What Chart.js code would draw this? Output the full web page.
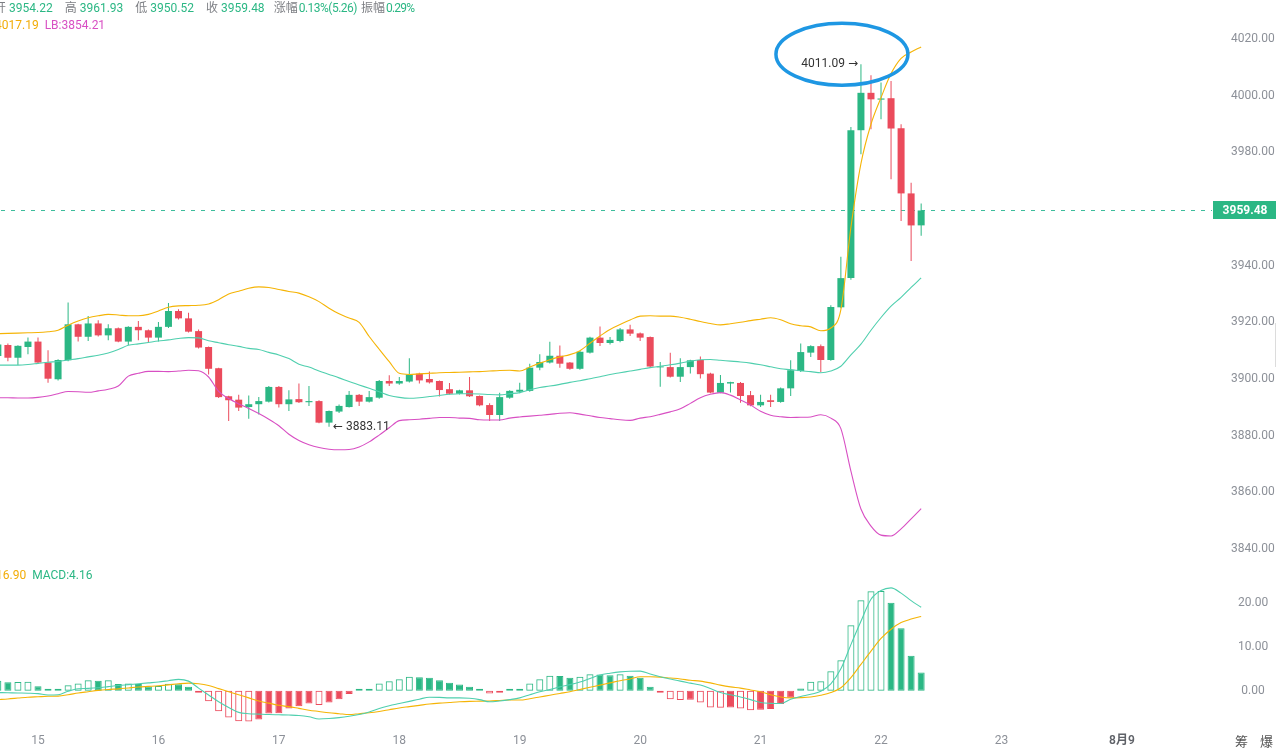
<!DOCTYPE html>
<html>
<head>
<meta charset="utf-8">
<script src="https://cdn.jsdelivr.net/npm/chart.js@4.4.1/dist/chart.umd.min.js"></script>
<style>
  html, body { margin: 0; padding: 0; background: #fff; }
  #wrap { position: relative; width: 1276px; height: 753px; overflow: hidden;
          font-family: Roboto, "Noto Sans CJK SC", sans-serif; }
  #chart { position: absolute; left: 0; top: 0; }
  .hdr { position: absolute; font-size: 12px; line-height: 14px; white-space: nowrap; z-index: 2; }
  .k { color: #7d7f84; margin-left: 12px; }
  .k:first-child { margin-left: 0; }
  .v { color: #2bb784; margin-left: 3px; }
  .side { position: absolute; font-size: 13px; color: #555; z-index: 2; }
</style>
</head>
<body>
<div id="wrap">
  <canvas id="chart" width="1276" height="753"></canvas>
  <div class="hdr" style="left:-6px;top:1px">
    <span class="k">开</span><span class="v">3954.22</span><span class="k">高</span><span class="v">3961.93</span><span class="k">低</span><span class="v">3950.52</span><span class="k">收</span><span class="v">3959.48</span><span class="k" style="margin-left:9px">涨幅</span><span class="v" style="margin-left:1px;letter-spacing:-0.5px">0.13%(5.26)</span><span class="k" style="margin-left:4px">振幅</span><span class="v" style="margin-left:1px;letter-spacing:-0.8px">0.29%</span>
  </div>
  <div class="hdr" style="left:-5px;top:18px">
    <span style="color:#f2ac06">4017.19</span><span style="color:#d84fc3;margin-left:6px">LB:3854.21</span>
  </div>
  <div class="hdr" style="left:-4px;top:568px">
    <span style="color:#f2ac06">16.90</span><span style="color:#2bb784;margin-left:6px">MACD:4.16</span>
  </div>
  <div class="side" style="left:1235px;top:731px">筹</div>
  <div class="side" style="left:1260px;top:731px">爆</div>
  <div style="position:absolute;left:1275px;top:323px;width:1px;height:44px;background:#dcdcdc"></div>
</div>
<script>
// 2h candles, slot 0 = 15日 00:00, first slot = 14日 16:00
const startSlot = -4;

const openP = [
  3908.1, 3912.0, 3907.5, 3911.3,
  3913.2, 3905.8, 3899.9, 3906.6, 3919.3, 3914.9, 3919.6, 3915.4, 3917.9, 3913.2, 3918.4, 3917.2,
  3914.6, 3918.4, 3924.0, 3921.4, 3916.9, 3911.3, 3903.8, 3893.9, 3892.7, 3890.1, 3891.1, 3892.0,
  3897.2, 3891.1, 3892.9, 3891.8, 3892.2, 3884.6, 3888.5, 3890.1, 3894.4, 3892.0, 3893.4, 3899.3,
  3898.4, 3899.1, 3901.9, 3900.0, 3899.3, 3896.4, 3894.8, 3896.0, 3894.0, 3890.8, 3887.3, 3893.4,
  3895.5, 3895.8, 3904.0, 3905.8, 3908.2, 3905.8, 3903.6, 3909.3, 3914.6, 3912.7, 3913.4, 3917.5,
  3916.1, 3914.8, 3904.1, 3904.2, 3900.8, 3904.2, 3906.7, 3901.9, 3895.2, 3898.4, 3898.6, 3894.3,
  3890.7, 3892.5, 3891.9, 3896.7, 3902.8, 3909.3, 3911.6, 3906.7, 3925.3, 3935.6, 3987.8, 4001.0,
  3998.6, 3999.1, 3988.5, 3965.5, 3954.22
];
const highP = [
  3912.5, 3912.5, 3911.9, 3914.6,
  3914.6, 3910.1, 3907.0, 3927.0, 3919.5, 3922.2, 3920.7, 3919.3, 3918.2, 3918.6, 3920.5, 3917.5,
  3920.1, 3926.8, 3924.6, 3923.4, 3917.5, 3911.5, 3904.0, 3894.1, 3894.4, 3894.2, 3893.6, 3897.5,
  3897.5, 3896.0, 3898.4, 3897.5, 3892.5, 3888.9, 3891.0, 3895.8, 3894.7, 3895.8, 3899.6, 3901.3,
  3900.7, 3907.3, 3902.2, 3902.6, 3899.5, 3898.6, 3896.2, 3900.7, 3894.2, 3891.4, 3895.1, 3896.0,
  3898.7, 3905.4, 3908.7, 3913.1, 3911.8, 3906.0, 3909.9, 3914.9, 3918.5, 3914.8, 3918.0, 3919.1,
  3916.4, 3915.0, 3906.0, 3909.3, 3907.3, 3906.8, 3907.9, 3902.2, 3901.4, 3899.0, 3898.9, 3895.8,
  3894.4, 3894.4, 3897.0, 3906.6, 3912.5, 3911.9, 3912.2, 3926.0, 3943.1, 3988.9, 4011.09, 4007.2,
  4004.6, 4005.2, 3989.9, 3969.3, 3961.93
];
const lowP = [
  3907.6, 3906.3, 3904.9, 3908.7,
  3905.5, 3898.7, 3899.5, 3906.3, 3913.2, 3913.4, 3915.0, 3913.7, 3913.0, 3912.0, 3913.7, 3912.8,
  3913.2, 3918.0, 3921.0, 3916.4, 3910.8, 3901.6, 3893.3, 3885.2, 3888.7, 3886.0, 3887.5, 3891.7,
  3889.9, 3888.7, 3891.5, 3890.5, 3884.4, 3883.11, 3888.0, 3889.9, 3890.5, 3891.7, 3893.0, 3897.5,
  3898.0, 3898.8, 3898.4, 3898.4, 3893.8, 3894.5, 3894.5, 3893.6, 3890.4, 3885.2, 3885.2, 3893.0,
  3895.0, 3895.5, 3903.1, 3905.5, 3904.0, 3903.3, 3903.3, 3909.0, 3911.6, 3912.2, 3913.0, 3915.2,
  3913.4, 3904.0, 3897.3, 3900.5, 3898.9, 3901.9, 3900.2, 3895.0, 3895.0, 3895.2, 3891.6, 3890.4,
  3890.1, 3890.1, 3891.6, 3894.0, 3902.5, 3907.8, 3902.5, 3906.4, 3925.0, 3935.0, 3979.3, 3988.1,
  3991.7, 3970.5, 3955.8, 3941.6, 3950.52
];
const closeP = [
  3912.2, 3907.5, 3911.7, 3913.2,
  3905.8, 3900.1, 3906.7, 3919.3, 3914.9, 3919.6, 3915.4, 3917.9, 3913.2, 3918.4, 3917.2, 3914.6,
  3918.4, 3924.0, 3921.4, 3916.7, 3911.1, 3903.6, 3893.6, 3892.5, 3889.9, 3891.1, 3892.2, 3897.2,
  3891.1, 3892.8, 3891.8, 3892.2, 3884.6, 3888.7, 3890.5, 3894.4, 3892.0, 3893.6, 3899.3, 3898.4,
  3899.3, 3901.6, 3899.5, 3898.8, 3896.1, 3894.8, 3896.0, 3893.9, 3890.7, 3887.3, 3893.6, 3895.8,
  3896.2, 3904.0, 3906.0, 3908.2, 3905.4, 3903.6, 3909.6, 3914.6, 3912.7, 3913.8, 3917.5, 3916.0,
  3914.6, 3904.4, 3904.4, 3900.8, 3904.2, 3906.6, 3901.7, 3895.2, 3898.6, 3898.9, 3894.0, 3890.7,
  3891.9, 3891.9, 3896.7, 3903.1, 3909.5, 3911.6, 3906.7, 3925.4, 3935.6, 3987.8, 4001.0, 3998.7,
  3999.0, 3988.4, 3965.5, 3954.2, 3959.48
];

// Bollinger bands
const upperBand = [
  3916.0, 3916.1, 3916.2, 3916.3,
  3916.4, 3916.7, 3917.2, 3919.0, 3920.5, 3921.6, 3922.3, 3922.8, 3922.6, 3922.3, 3922.3, 3922.8,
  3924.0, 3925.3, 3925.8, 3925.9, 3926.0, 3926.5, 3928.0, 3930.0, 3931.0, 3932.0, 3932.5, 3932.3,
  3931.6, 3930.9, 3930.3, 3929.0, 3927.3, 3925.0, 3923.0, 3921.5, 3920.0, 3915.0, 3910.5, 3906.1,
  3902.0, 3901.6, 3901.8, 3902.0, 3902.2, 3902.3, 3902.4, 3902.5, 3902.6, 3902.8, 3903.0, 3903.1,
  3902.8, 3904.2, 3905.6, 3906.8, 3907.8, 3908.6, 3910.0, 3912.6, 3915.2, 3917.5, 3919.2, 3920.8,
  3922.2, 3922.3, 3922.2, 3922.2, 3921.8, 3921.1, 3920.3, 3919.6, 3919.1, 3919.5, 3920.0, 3920.6,
  3921.1, 3921.6, 3920.9, 3919.5, 3918.8, 3918.4, 3917.0, 3918.0, 3924.5, 3953.5, 3976.0, 3989.9,
  3999.3, 4007.8, 4013.2, 4015.4, 4017.19
];
const midBand = [
  3904.9, 3904.9, 3904.9, 3905.1,
  3905.5, 3905.9, 3906.2, 3906.7, 3907.2, 3907.8, 3908.4, 3909.2, 3910.4, 3911.9, 3912.4, 3912.9,
  3913.4, 3913.8, 3914.3, 3914.6, 3914.5, 3913.5, 3912.8, 3912.1, 3911.5, 3910.8, 3910.4, 3909.4,
  3908.5, 3907.2, 3905.2, 3904.2, 3902.8, 3901.6, 3900.4, 3899.1, 3897.9, 3896.7, 3895.5, 3894.2,
  3893.5, 3893.2, 3893.4, 3893.8, 3894.2, 3894.6, 3894.8, 3894.8, 3894.7, 3894.5, 3894.4, 3894.8,
  3895.2, 3896.2, 3897.0, 3897.5, 3898.1, 3898.8, 3899.4, 3900.1, 3900.8, 3901.6, 3902.2, 3902.8,
  3903.4, 3904.0, 3904.5, 3905.0, 3905.6, 3906.3, 3906.8, 3906.9, 3906.6, 3906.3, 3906.0, 3905.6,
  3905.0, 3904.3, 3903.6, 3903.3, 3902.9, 3902.6, 3902.2, 3902.8, 3904.5, 3908.5, 3912.3, 3917.2,
  3921.7, 3925.7, 3928.8, 3932.3, 3935.7
];
const lowerBand = [
  3893.4, 3893.4, 3893.3, 3893.3,
  3893.5, 3894.0, 3894.8, 3895.6, 3895.5, 3895.3, 3895.8, 3896.4, 3897.5, 3901.0, 3902.0, 3902.7,
  3902.7, 3902.6, 3902.8, 3903.1, 3902.9, 3900.7, 3895.6, 3893.1, 3891.2, 3889.6, 3887.8, 3885.8,
  3883.5, 3880.5, 3878.3, 3876.8, 3875.8, 3875.2, 3875.0, 3875.1, 3876.0, 3877.8, 3880.2, 3882.8,
  3885.3, 3885.6, 3885.8, 3886.1, 3886.4, 3886.4, 3886.2, 3886.1, 3885.6, 3885.5, 3885.5, 3886.2,
  3886.6, 3886.9, 3887.2, 3887.5, 3887.9, 3888.1, 3887.6, 3887.0, 3886.4, 3886.0, 3885.6, 3885.4,
  3886.2, 3886.7, 3887.5, 3888.4, 3889.5, 3891.4, 3893.4, 3894.6, 3895.2, 3894.3, 3892.6, 3890.8,
  3888.6, 3887.2, 3886.7, 3886.4, 3886.5, 3886.6, 3887.4, 3886.2, 3882.5, 3867.5, 3854.1, 3848.1,
  3844.9, 3844.6, 3847.1, 3850.6, 3854.21
];

// MACD panel
const difLine = [
  -0.4, -0.45, -0.5, -0.55,
  -0.65, -0.95, -0.9, -0.1, 0.45, 0.55, 0.7, 0.95, 1.2, 1.4, 1.6, 1.8,
  2.0, 2.3, 2.6, 2.2, 0.6, -0.95, -2.5, -3.8, -4.9, -5.2, -5.3, -5.4,
  -5.45, -5.5, -5.6, -5.9, -6.4, -6.3, -6.1, -5.8, -5.4, -4.8, -4.0, -3.4,
  -2.9, -2.4, -1.9, -1.45, -1.5, -1.6, -1.6, -1.7, -2.0, -2.5, -2.3, -2.0,
  -1.6, -0.9, -0.2, 0.3, 0.9, 1.4, 2.0, 2.8, 3.6, 4.0, 4.3, 4.45,
  4.47, 3.8, 3.2, 2.7, 2.2, 1.75, 1.3, 0.5, -0.4, -0.9, -1.4, -2.0,
  -2.65, -2.85, -2.9, -1.9, -1.3, -0.8, -0.1, 1.6, 5.0, 10.5, 15.8, 20.8,
  22.8, 23.4, 22.2, 20.5, 18.98
];
const deaLine = [
  -2.0, -1.85, -1.65, -1.45,
  -1.35, -1.25, -1.2, -0.9, -0.5, -0.2, 0.1, 0.3, 0.45, 0.65, 0.85, 1.0,
  1.15, 1.35, 1.6, 1.75, 1.6, 1.2, 0.5, -0.2, -0.9, -1.6, -2.3, -2.8,
  -3.3, -3.6, -4.0, -4.4, -4.7, -5.0, -5.2, -5.4, -5.2, -5.0, -4.7, -4.3,
  -3.9, -3.6, -3.3, -3.0, -2.8, -2.65, -2.5, -2.4, -2.35, -2.3, -2.2, -2.1,
  -2.1, -1.8, -1.4, -1.0, -0.6, -0.2, 0.3, 0.8, 1.3, 1.8, 2.3, 2.7,
  3.2, 3.2, 3.1, 2.9, 2.7, 2.4, 2.2, 1.8, 1.3, 0.9, 0.6, 0.2,
  -0.2, -0.9, -1.4, -1.6, -1.55, -1.4, -1.0, -0.4, 0.7, 3.0, 6.0, 9.0,
  11.9, 14.0, 15.5, 16.3, 16.90
];
const macdHist = [
  2.27, 1.95, 2.0, 2.05,
  1.06, 0.35, 0.3, 1.29, 1.67, 2.42, 2.27, 2.42, 1.52, 1.67, 1.52, 1.0,
  1.1, 1.6, 1.5, 0.9, -0.4, -2.35, -4.62, -6.06, -6.89, -6.95, -6.5, -5.15,
  -5.1, -4.0, -3.5, -2.9, -3.25, -2.65, -1.9, -0.75, 0.15, 0.3, 1.67, 2.2,
  2.65, 3.18, 3.1, 2.95, 2.42, 1.82, 1.44, 0.91, 0.3, -0.6, -0.45, 0.1,
  0.25, 1.67, 2.65, 3.4, 3.35, 2.95, 3.18, 3.79, 3.7, 3.55, 3.79, 3.4,
  2.95, 0.9, -0.4, -1.9, -2.1, -2.05, -2.65, -3.8, -3.85, -3.8, -4.0, -4.4,
  -4.3, -4.15, -3.0, -1.6, 0.5, 2.05, 2.2, 4.47, 6.97, 14.9, 20.6, 22.65,
  22.7, 20.0, 14.2, 7.95, 4.16
];

// axis ticks
const xTickSlots = [0, 12, 24, 36, 48, 60, 72, 84, 96, 108];
const xTickLabels = ['15', '16', '17', '18', '19', '20', '21', '22', '23', '8月9'];
const monthTick = '8月9';
const priceTicks = [3840, 3860, 3880, 3900, 3920, 3940, 3980, 4000, 4020];
const macdTicks = [0, 10, 20];

const GREEN = '#2bb784';
const RED = '#eb4b5c';
const ORANGE = '#f5b406';
const TEAL = '#4fcfae';
const MAGENTA = '#d84fc3';
const TICK_GREY = '#8c9098';

Chart.defaults.font.family = 'Roboto, "Noto Sans CJK SC", sans-serif';
Chart.defaults.font.size = 12;

const pts = arr => arr.map((v, i) => ({ x: startSlot + i, y: v }));
const candleColor = i => (closeP[i] >= openP[i] ? GREEN : RED);
const hollowBar = i => {
  if (i === 0) return false;
  const v = macdHist[i], p = macdHist[i - 1];
  return v >= 0 ? v > p : v < p;
};
const lineSet = (label, data, axis, color) => ({
  type: 'line', label, data: pts(data), yAxisID: axis,
  borderColor: color, borderWidth: 1.1, pointRadius: 0,
  cubicInterpolationMode: 'monotone'
});

const lastClose = closeP[closeP.length - 1];

const overlay = {
  id: 'overlay',
  beforeDatasetsDraw(chart) {
    const { ctx, chartArea: a } = chart;
    const y = Math.round(chart.scales.yP.getPixelForValue(lastClose)) + 0.5;
    ctx.save();
    ctx.strokeStyle = '#3dbd9c';
    ctx.lineWidth = 1;
    ctx.setLineDash([4, 6]);
    ctx.beginPath();
    ctx.moveTo(a.left + 1, y);
    ctx.lineTo(a.right, y);
    ctx.stroke();
    ctx.restore();
  },
  afterDraw(chart) {
    const { ctx, chartArea: a } = chart;
    const x = chart.scales.x, yP = chart.scales.yP;
    const y = Math.round(yP.getPixelForValue(lastClose));
    ctx.save();
    // last price tag
    ctx.fillStyle = GREEN;
    ctx.fillRect(a.right + 1, y - 9, chart.width - a.right - 1, 18);
    ctx.fillStyle = '#fff';
    ctx.font = 'bold 12px Roboto, sans-serif';
    ctx.textAlign = 'center';
    ctx.textBaseline = 'middle';
    ctx.fillText(lastClose.toFixed(2), (a.right + chart.width) / 2 + 1, y + 0.5);

    // highest / lowest marks
    const hi = highP.indexOf(Math.max(...highP));
    const lo = lowP.indexOf(Math.min(...lowP));
    const hx = x.getPixelForValue(startSlot + hi), hy = yP.getPixelForValue(highP[hi]);
    const lx = x.getPixelForValue(startSlot + lo), ly = yP.getPixelForValue(lowP[lo]);
    ctx.fillStyle = '#333';
    ctx.font = '12px Roboto, "DejaVu Sans", sans-serif';
    ctx.textAlign = 'right';
    ctx.fillText(highP[hi].toFixed(2) + ' →', hx - 3, hy);
    ctx.textAlign = 'left';
    ctx.fillText('← ' + lowP[lo].toFixed(2), lx + 4, ly);

    // hand-drawn highlight ring around the high
    ctx.strokeStyle = '#1e97e3';
    ctx.lineWidth = 3.5;
    ctx.beginPath();
    ctx.ellipse(hx - 19, hy - 10, 66, 31, 0, 0, Math.PI * 2);
    ctx.stroke();
    ctx.restore();
  }
};

// pixel layout: price pane 0-565, macd pane 565-725, x labels below
const xMin = -3.786, xMax = 116.98;
const priceMin = 3834.35, priceMax = 4033.76;
const macdMin = -7.77, macdMax = 28.59;

const yAxis = (min, max, ticks, weight, pad) => ({
  position: 'right', stack: 'pane', stackWeight: weight,
  min, max,
  grid: { display: false }, border: { display: false },
  afterBuildTicks: s => { s.ticks = ticks.map(v => ({ value: v })); },
  ticks: { callback: v => Number(v).toFixed(2), crossAlign: 'center', padding: pad, color: TICK_GREY },
  afterFit: s => { s.width = 64; s.paddingTop = 0; s.paddingBottom = 0; }
});

new Chart(document.getElementById('chart'), {
  type: 'bar',
  data: {
    datasets: [
      lineSet('UB', upperBand, 'yP', ORANGE),
      lineSet('BOLL', midBand, 'yP', TEAL),
      lineSet('LB', lowerBand, 'yP', MAGENTA),
      lineSet('DIF', difLine, 'yM', TEAL),
      lineSet('DEA', deaLine, 'yM', ORANGE),
      {
        label: 'body',
        data: openP.map((o, i) => ({ x: startSlot + i, y: [o, closeP[i]] })),
        yAxisID: 'yP',
        backgroundColor: c => candleColor(c.dataIndex),
        barThickness: 7, minBarLength: 1
      },
      {
        label: 'wick',
        data: lowP.map((l, i) => ({ x: startSlot + i, y: [l, highP[i]] })),
        yAxisID: 'yP',
        backgroundColor: c => candleColor(c.dataIndex),
        barThickness: 1
      },
      {
        label: 'MACD',
        data: pts(macdHist),
        yAxisID: 'yM',
        backgroundColor: c => hollowBar(c.dataIndex) ? 'rgba(0,0,0,0)' : (macdHist[c.dataIndex] >= 0 ? GREEN : RED),
        borderColor: c => (macdHist[c.dataIndex] >= 0 ? GREEN : RED),
        borderWidth: 1,
        barThickness: 7, minBarLength: 2
      }
    ]
  },
  options: {
    responsive: false,
    animation: false,
    devicePixelRatio: 1,
    events: [],
    layout: { padding: 0, autoPadding: false },
    datasets: { bar: { grouped: false, borderSkipped: false, inflateAmount: 0 } },
    plugins: { legend: { display: false }, tooltip: { enabled: false } },
    scales: {
      x: {
        type: 'linear', min: xMin, max: xMax, offset: false,
        grid: { display: false }, border: { display: false },
        afterBuildTicks: s => { s.ticks = xTickSlots.map(v => ({ value: v })); },
        ticks: {
          autoSkip: false, maxRotation: 0, padding: 1,
          callback: v => xTickLabels[xTickSlots.indexOf(v)],
          color: c => (c.tick && xTickLabels[xTickSlots.indexOf(c.tick.value)] === monthTick ? '#5f6268' : TICK_GREY),
          font: c => ({ size: 12, weight: c.tick && xTickLabels[xTickSlots.indexOf(c.tick.value)] === monthTick ? '600' : 'normal' })
        },
        afterFit: s => { s.height = 28; s.paddingLeft = 0; s.paddingRight = 0; }
      },
      yP: yAxis(priceMin, priceMax, priceTicks, 565, 11),
      yM: yAxis(macdMin, macdMax, macdTicks, 160, 18)
    }
  },
  plugins: [overlay]
});
</script>
</body>
</html>
